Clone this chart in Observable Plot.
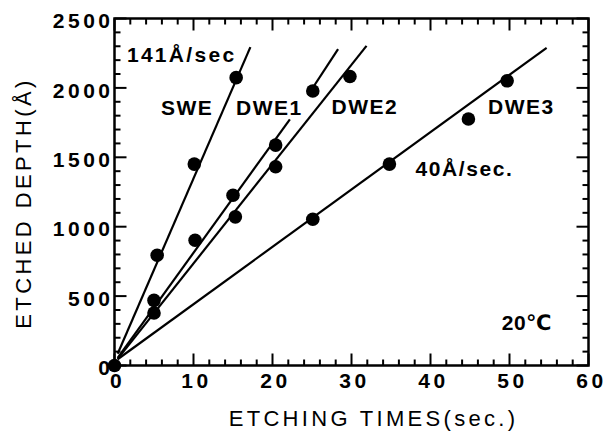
<!DOCTYPE html>
<html><head><meta charset="utf-8">
<script src="https://cdn.jsdelivr.net/npm/d3@7"></script>
<script src="https://cdn.jsdelivr.net/npm/@observablehq/plot@0.6"></script>
<style>
body{margin:0;background:#fff;}
#chart svg{display:block;}
</style>
</head><body><div id="chart"></div>
<script>
// Axis ticks and titles
const xTickValues = [0, 10, 20, 30, 40, 50, 60];
const yTickValues = [0, 500, 1000, 1500, 2000, 2500];
const xMinorTicks = d3.range(0, 61, 2);
const yMinorTicks = d3.range(0, 2501, 100);
const xTitle = "ETCHING TIMES(sec.)";
const yTitle = "ETCHED DEPTH(Å)";

// Measured points (time in sec, depth in Å)
const originTime = [0];
const originDepth = [0];
const sweTime = [5.4, 10.1, 15.4];
const sweDepth = [794, 1451, 2074];
const dwe1Time = [5.0, 10.2, 15.0, 20.4, 25.1];
const dwe1Depth = [469, 902, 1227, 1588, 1978];
const dwe2Time = [5.0, 15.3, 20.4, 29.8];
const dwe2Depth = [378, 1071, 1432, 2082];
const dwe3Time = [25.1, 34.8, 44.8, 49.7];
const dwe3Depth = [1054, 1451, 1776, 2051];

// Fitted straight lines (start / end)
const fitSeries = ["SWE", "DWE1", "DWE1", "DWE2", "DWE3"];
const fitX1 = [0.4, 0.4, 24.5, 0.4, 0.4];
const fitY1 = [85, 55, 1949, 48, 45];
const fitX2 = [17.2, 22.2, 28.3, 31.9, 54.7];
const fitY2 = [2294, 1774, 2279, 2303, 2289];

// Annotations
const labelText = ["141Å/sec", "SWE", "DWE1", "DWE2", "DWE3", "40Å/sec.", "20℃"];
const labelX = [8.5, 9.2, 19.6, 31.7, 51.5, 44.3, 52.2];
const labelY = [2235, 1852, 1852, 1859, 1859, 1412, 303];

const points = [];
const addPts = (name, t, d) => t.forEach((v, i) => points.push({series: name, t: v, d: d[i]}));
addPts("origin", originTime, originDepth);
addPts("SWE", sweTime, sweDepth);
addPts("DWE1", dwe1Time, dwe1Depth);
addPts("DWE2", dwe2Time, dwe2Depth);
addPts("DWE3", dwe3Time, dwe3Depth);

const fits = fitSeries.map((s, i) => ({series: s, x1: fitX1[i], y1: fitY1[i], x2: fitX2[i], y2: fitY2[i]}));
const labels = labelText.map((s, i) => ({text: s, x: labelX[i], y: labelY[i]}));

const W = 606, H = 434;
const mL = 114, mR = 18, mT = 18, mB = 69;
const innerW = W - mL - mR, innerH = H - mT - mB;
const xMax = 60, yMax = 2500;
// tick lengths expressed in data units of each scale
const px2y = yMax / innerH, px2x = xMax / innerW;
const minorLen = 6, majorLen = 12;
const font = "'Liberation Sans', Arial, 'DejaVu Sans', 'Noto Sans CJK JP', sans-serif";

// inward tick segments on all four sides
const tickSegs = [];
xMinorTicks.forEach(v => {
  const len = (xTickValues.includes(v) ? majorLen : minorLen) * px2y;
  tickSegs.push({x1: v, x2: v, y1: 0, y2: len});
  tickSegs.push({x1: v, x2: v, y1: yMax - len, y2: yMax});
});
yMinorTicks.forEach(v => {
  const len = (yTickValues.includes(v) ? majorLen : minorLen) * px2x;
  tickSegs.push({y1: v, y2: v, x1: 0, x2: len});
  tickSegs.push({y1: v, y2: v, x1: xMax - len, x2: xMax});
});

const chart = Plot.plot({
  width: W, height: H,
  marginLeft: mL, marginRight: mR, marginTop: mT, marginBottom: mB,
  style: {fontFamily: font},
  x: {domain: [0, xMax]},
  y: {domain: [0, yMax]},
  marks: [
    Plot.frame({stroke: "black", fill: "none", strokeWidth: 2.5}),
    Plot.axisX(xTickValues, {anchor: "bottom", tickSize: 0, tickPadding: 8, dx: 3, fontSize: 21, fontWeight: "bold", tickFormat: d => String(d), label: null}),
    Plot.axisY(yTickValues, {anchor: "left", tickSize: 0, tickPadding: 1, dy: 3, fontSize: 21, fontWeight: "bold", tickFormat: d => String(d), label: null}),
    Plot.link(fits, {x1: "x1", y1: "y1", x2: "x2", y2: "y2", stroke: "black", strokeWidth: 2.2}),
    Plot.dot(points, {x: "t", y: "d", r: 6.8, fill: "black", stroke: "none"}),
    Plot.text(labels, {x: "x", y: "y", text: "text", fontSize: 21, fontWeight: "bold", fill: "black", textAnchor: "middle", lineAnchor: "middle"}),
    Plot.text([xTitle], {frameAnchor: "bottom", text: d => d, textAnchor: "middle", dx: 22, dy: 53, lineAnchor: "middle", fontSize: 22, fill: "black"}),
    Plot.text([yTitle], {frameAnchor: "left", text: d => d, textAnchor: "middle", rotate: -90, dx: -91, dy: 11, lineAnchor: "middle", fontSize: 22, fill: "black"}),
    Plot.link(tickSegs, {x1: "x1", y1: "y1", x2: "x2", y2: "y2", stroke: "black", strokeWidth: 2})
  ]
});

document.getElementById("chart").appendChild(chart);

const svg = d3.select(chart);
const setLS = (sel, v) => sel.style("letter-spacing", v + "px");
setLS(svg.selectAll('g[aria-label="x-axis tick label"] text'), 3.5);
setLS(svg.selectAll('g[aria-label="y-axis tick label"] text'), 3.5);
const textGroups = svg.selectAll('g[aria-label="text"]').nodes();
const annSpacing = [2.3, 1.5, 1.5, 1.5, 1.5, 1.6, 0.5];
d3.select(textGroups[0]).selectAll("text").each(function(d, i) {
  d3.select(this).style("letter-spacing", annSpacing[i] + "px");
});
setLS(d3.select(textGroups[1]).selectAll("text"), 3.3);
setLS(d3.select(textGroups[2]).selectAll("text"), 3.4);
</script>
</body></html>
